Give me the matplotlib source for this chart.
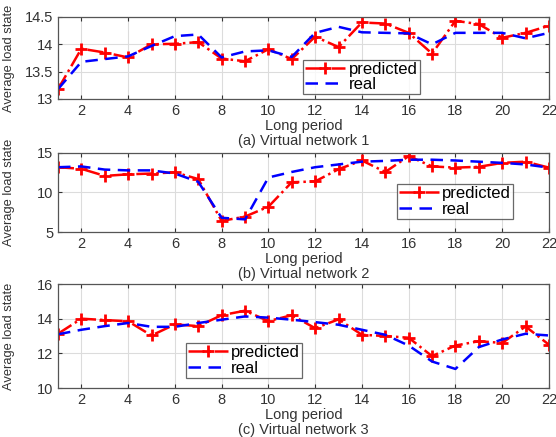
import matplotlib
matplotlib.use("Agg")
import matplotlib.pyplot as plt
import numpy as np

plt.rcParams['font.family'] = ['Liberation Sans', 'DejaVu Sans']

periods = np.arange(1, 23)

# (a) Virtual network 1
pred_1 = [13.18, 13.92, 13.85, 13.76, 14.00, 14.01, 14.04, 13.74, 13.69, 13.91, 13.73,
          14.14, 13.95, 14.40, 14.38, 14.21, 13.83, 14.43, 14.37, 14.12, 14.21, 14.34]
real_1 = [13.18, 13.68, 13.73, 13.78, 13.97, 14.15, 14.18, 13.76, 13.87, 13.89, 13.77,
          14.21, 14.32, 14.22, 14.21, 14.20, 14.00, 14.21, 14.21, 14.21, 14.11, 14.21]

# (b) Virtual network 2
pred_2 = [13.2, 13.0, 12.1, 12.3, 12.4, 12.55, 11.7, 6.4, 6.95, 8.2, 11.3,
          11.4, 12.95, 14.05, 12.6, 14.6, 13.3, 13.15, 13.25, 13.75, 13.9, 13.15]
real_2 = [13.2, 13.3, 12.9, 12.8, 12.8, 12.4, 11.35, 6.8, 6.6, 11.9, 12.6,
          13.2, 13.55, 13.9, 14.0, 14.15, 14.15, 14.05, 13.9, 13.75, 13.55, 13.15]

# (c) Virtual network 3
pred_3 = [13.13, 14.0, 13.92, 13.85, 13.03, 13.67, 13.57, 14.2, 14.46, 13.86, 14.2,
          13.45, 13.96, 13.07, 13.0, 12.9, 11.84, 12.45, 12.7, 12.6, 13.55, 12.5]
real_3 = [13.1, 13.36, 13.57, 13.75, 13.53, 13.53, 13.75, 13.94, 14.13, 14.06, 13.94,
          13.8, 13.65, 13.36, 13.07, 12.45, 11.53, 11.1, 12.36, 12.8, 13.13, 13.03]

captions = ['(a) Virtual network 1', '(b) Virtual network 2', '(c) Virtual network 3']
y_limits = [(13, 14.5), (5, 15), (10, 16)]
y_ticks = [[13, 13.5, 14, 14.5], [5, 10, 15], [10, 12, 14, 16]]
x_ticks = list(range(2, 23, 2))

fig = plt.figure(figsize=(5.56, 4.37), dpi=100)

# axes boxes in figure fraction
boxes = [[0.1043, 0.7735, 0.883, 0.1876],
         [0.1043, 0.4691, 0.883, 0.1808],
         [0.1043, 0.1121, 0.883, 0.2380]]
legend_anchor = [(0.50, 0.06), (0.69, 0.17), (0.26, 0.10)]

series = [(pred_1, real_1), (pred_2, real_2), (pred_3, real_3)]

for i, (pred, real) in enumerate(series):
    ax = fig.add_axes(boxes[i])
    ax.plot(periods, pred, color='red', linestyle='-.', linewidth=1.8,
            marker='+', markersize=8, markeredgewidth=2, label='predicted')
    ax.plot(periods, real, color='blue', linestyle='--', linewidth=1.8,
            dashes=(5, 3), label='real')
    ax.set_xlim(1, 22)
    ax.set_ylim(*y_limits[i])
    ax.set_xticks(x_ticks)
    ax.set_yticks(y_ticks[i])
    ax.set_yticklabels([f'{t:g}' for t in y_ticks[i]])
    ax.grid(True, color='#dcdcdc', linewidth=0.8)
    ax.set_axisbelow(True)
    for sp in ax.spines.values():
        sp.set_color('#555555')
        sp.set_linewidth(0.9)
    ax.tick_params(labelsize=10.5, colors='#333333', length=3, direction='in',
                   top=True, right=True)
    ax.set_ylabel('Average load state', fontsize=9.3, color='#333333')
    ax.yaxis.set_label_coords(-0.088, 0.5)
    ax.set_xlabel('Long period\n' + captions[i], fontsize=10.5, color='#333333',
                  linespacing=1.05, labelpad=1)
    leg = ax.legend(loc='lower left', bbox_to_anchor=legend_anchor[i], fontsize=12,
                    frameon=True, fancybox=False, handlelength=2.4,
                    borderpad=0.12, labelspacing=0.02, handletextpad=0.2,
                    borderaxespad=0)
    leg.get_frame().set_edgecolor('#444444')
    leg.get_frame().set_linewidth(0.9)

fig.savefig('out.png', dpi=100)
